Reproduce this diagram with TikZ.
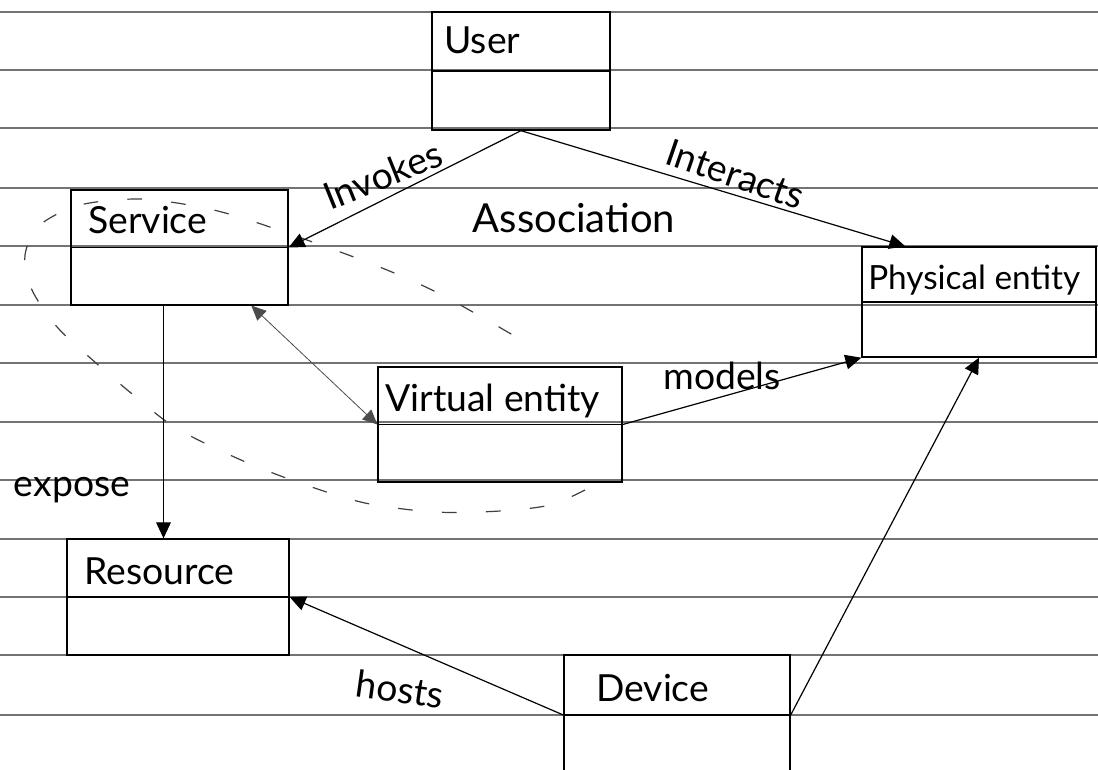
\documentclass[tikz,border=0pt]{standalone}
\usepackage{fontspec}
\setmainfont{Lato}
\usetikzlibrary{arrows.meta}
\begin{document}
\begin{tikzpicture}[x=0.75pt,y=-0.75pt,
  rule/.style={draw=black!55,line width=0.8pt},
  classbox/.style={draw=black,line width=1pt,rectangle,inner sep=0pt},
  lbl/.style={inner sep=0pt,font=\fontsize{28}{30}\selectfont},
  arr/.style={draw=black,line width=0.9pt,-{Triangle[length=12pt,width=11pt]}},
  thinarr/.style={draw=black!70,line width=0.6pt,{Triangle[length=11pt,width=10pt]}-{Triangle[length=11pt,width=10pt]}},
  assoc/.style={draw=black!75,line width=0.9pt,dash pattern=on 11pt off 22pt}]
\useasboundingbox (0,0) rectangle (1098,769);
\fill[white] (0,0) rectangle (1098,769);

% ruled paper
\foreach \ry in {12,70,128,188,246,305,363,422,480,539,597,655,715}
  \draw[rule] (0,\ry) -- (1098,\ry);

% class boxes
\node[classbox,minimum width=133.5pt,minimum height=88.5pt] (user) at (521,71) {};
\node[classbox,minimum width=162.75pt,minimum height=86.25pt] (service) at (179.5,247.5) {};
\node[classbox,minimum width=175.5pt,minimum height=82.5pt] (phys) at (979,302) {};
\node[classbox,minimum width=183pt,minimum height=86.25pt] (virt) at (500,424.5) {};
\node[classbox,minimum width=166.5pt,minimum height=87pt] (res) at (178,597) {};
\node[classbox,minimum width=169.5pt,minimum height=97.5pt] (dev) at (677,720) {};

% compartment dividers
\foreach \b in {user,service,phys,virt,res}
  \draw[line width=1pt] (\b.west) -- (\b.east);
\draw[line width=1pt] (dev.west |- 0,715) -- (dev.east |- 0,715);

% class names
\node[lbl,anchor=west] (tuser) at (444,40) {User};
\node[lbl,anchor=west] (tservice) at (88,220) {Service};
\node[lbl,anchor=west,font=\fontsize{25}{27}\selectfont] (tphys) at (868,280) {Physical entity};
\node[lbl,anchor=west] (tvirt) at (385,401) {Virtual entity};
\node[lbl,anchor=west] (tres) at (84,571) {Resource};
\node[lbl,anchor=west] (tdev) at (596,688) {Device};

% association loop around Service and Virtual entity
\draw[assoc] plot[smooth] coordinates {(585,490) (550,505) (500,511) (435,512) (365,503) (300,483) (241,460) (176,428) (131,393) (96,363) (58,328) (32,290) (25,255) (40,225) (80,205) (139,199) (200,207) (255,222) (367,262) (440,294) (530,345)};

% relations
\draw[arr] (user.south) -- (service.east);
\draw[arr] (user.south) -- ([xshift=33pt]phys.north west);
\draw[thinarr] ([xshift=-28pt]service.south east) -- (virt.west);
\draw[arr] (virt.east) -- (phys.south west);
\coordinate (exstart) at ([xshift=-12pt]service.south);
\draw[arr] (exstart) -- (exstart |- res.north);
\draw[arr] (dev.west |- 0,715) -- (res.east);
\draw[arr] (dev.east |- 0,715) -- (phys.south);

% relation labels
\node[lbl,rotate=22] (linv) at (383,175) {Invokes};
\node[lbl,rotate=-19] (lint) at (735,174) {Interacts};
\node[lbl,font=\fontsize{30}{32}\selectfont] (lassoc) at (574,218) {Association};
\node[lbl] (lmod) at (722,376) {models};
\node[lbl] (lexp) at (72,490) {expose};
\node[lbl,rotate=-8] (lhost) at (400,689) {hosts};
\end{tikzpicture}
\end{document}
